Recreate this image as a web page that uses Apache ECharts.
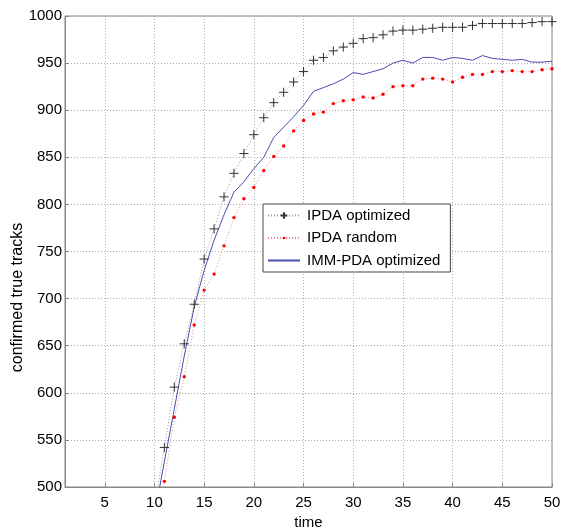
<!DOCTYPE html>
<html>
<head>
<meta charset="utf-8">
<script src="https://cdn.jsdelivr.net/npm/echarts@6/dist/echarts.min.js"></script>
<style>
html, body { margin: 0; padding: 0; background: #fff; }
#chart { width: 561px; height: 531px; }
</style>
</head>
<body>
<div id="chart"></div>
<script>
var times = [10, 11, 12, 13, 14, 15, 16, 17, 18, 19, 20, 21, 22, 23, 24, 25, 26, 27, 28, 29, 30,
    31, 32, 33, 34, 35, 36, 37, 38, 39, 40, 41, 42, 43, 44, 45, 46, 47, 48, 49, 50];
var ipdaOptimized = [480, 542, 606, 652, 694, 742, 774, 808, 833, 854, 874, 892, 908, 919, 930, 941, 953, 956, 963, 967, 971,
    976, 977, 980, 984, 985, 985, 986, 987, 988, 988, 988, 990, 992, 992, 992, 992, 992, 993, 994, 994];
var ipdaRandom = [440, 506, 574, 617, 672, 709, 726, 756, 786, 806, 818, 836, 851, 862, 878, 889, 896, 898, 907, 910, 911,
    914, 913, 917, 925, 926, 926, 933, 934, 933, 930, 935, 938, 938, 941, 941, 942, 941, 941, 943, 944];
var immPdaOptimized = [470, 527, 583, 639, 691, 730, 762, 789, 813, 824, 838, 850, 871, 882, 893, 905, 920, 924, 928, 933, 940,
    938, 941, 944, 950, 953, 950, 956, 956, 953, 956, 955, 953, 958, 955, 954, 953, 954, 951, 951, 952];
var xTicks = [5, 10, 15, 20, 25, 30, 35, 40, 45, 50];
var seriesNames = ['IPDA optimized', 'IPDA random', 'IMM-PDA optimized'];

// marker shapes padded with zero-length corner segments so the legend icon stays small
var crossMark = 'path://M0,0 L0,0 M14,14 L14,14 M3,7 L11,7 M7,3 L7,11';
var dotMark = 'path://M0,0 L0,0 M14,14 L14,14 M5.3,7 A1.7,1.7 0 1 1 8.7,7 A1.7,1.7 0 1 1 5.3,7 Z';
var noMark = 'path://M0,0 L0,0 M14,14 L14,14';

function pairs(vals) {
    return times.map(function (t, i) { return [t, vals[i]]; });
}

var chart = echarts.init(document.getElementById('chart'), null, {renderer: 'canvas'});
var option = {
    animation: false,
    textStyle: {fontFamily: 'Liberation Sans, Arial, sans-serif'},
    grid: {
        left: 65, right: 9, top: 16, bottom: 44,
        outerBoundsMode: 'none',
        containLabel: false,
        show: true, borderColor: '#888', borderWidth: 1, backgroundColor: '#fff'
    },
    legend: {
        data: seriesNames,
        orient: 'vertical',
        left: 263, top: 204,
        width: 184,
        padding: [4, 10, 4, 4],
        itemGap: 7.5,
        itemWidth: 32,
        itemHeight: 14,
        backgroundColor: '#fff',
        borderColor: '#444',
        borderWidth: 1,
        borderRadius: 0,
        textStyle: {fontSize: 15, color: '#000', padding: [0, 0, 0, 2]}
    },
    xAxis: {
        type: 'value',
        min: 1, max: 50,
        name: 'time',
        nameLocation: 'middle',
        nameGap: 28,
        nameMoveOverlap: false,
        nameTextStyle: {fontSize: 15, color: '#000'},
        axisLine: {show: true, onZero: false, lineStyle: {color: '#888'}},
        axisTick: {show: true, inside: true, length: 4, customValues: xTicks, lineStyle: {color: '#888'}},
        axisLabel: {fontSize: 15, color: '#000', margin: 8, customValues: xTicks},
        splitLine: {show: true, lineStyle: {color: '#aaa', type: [1, 2]}}
    },
    yAxis: {
        type: 'value',
        min: 500, max: 1000, interval: 50,
        name: 'confirmed true tracks',
        nameLocation: 'middle',
        nameGap: 39,
        nameMoveOverlap: false,
        nameTextStyle: {fontSize: 16, color: '#000', padding: [0, 92, 0, 0]},
        axisLine: {show: true, lineStyle: {color: '#888'}},
        axisTick: {show: true, inside: true, length: 4, lineStyle: {color: '#888'}},
        axisLabel: {fontSize: 15, color: '#000', margin: 3, formatter: function (v) { return String(v); }},
        splitLine: {show: true, lineStyle: {color: '#aaa', type: [1, 2]}}
    },
    series: [
        {
            name: seriesNames[0],
            type: 'line',
            data: pairs(ipdaOptimized),
            symbol: crossMark,
            symbolSize: 16,
            showAllSymbol: true,
            clip: true,
            itemStyle: {color: '#333', borderColor: '#333', borderWidth: 1},
            lineStyle: {color: '#999', width: 1, type: [1, 2]}
        },
        {
            name: seriesNames[1],
            type: 'line',
            data: pairs(ipdaRandom),
            symbol: dotMark,
            symbolSize: 14,
            showAllSymbol: true,
            clip: true,
            itemStyle: {color: '#f00', borderWidth: 0},
            lineStyle: {color: '#ec8a8a', width: 1, type: [1, 2]}
        },
        {
            name: seriesNames[2],
            type: 'line',
            data: pairs(immPdaOptimized),
            symbol: noMark,
            showSymbol: false,
            clip: true,
            itemStyle: {color: '#4b4bb4', borderWidth: 0},
            lineStyle: {color: '#4b4bb4', width: 1}
        }
    ]
};
chart.setOption(option);
</script>
</body>
</html>
